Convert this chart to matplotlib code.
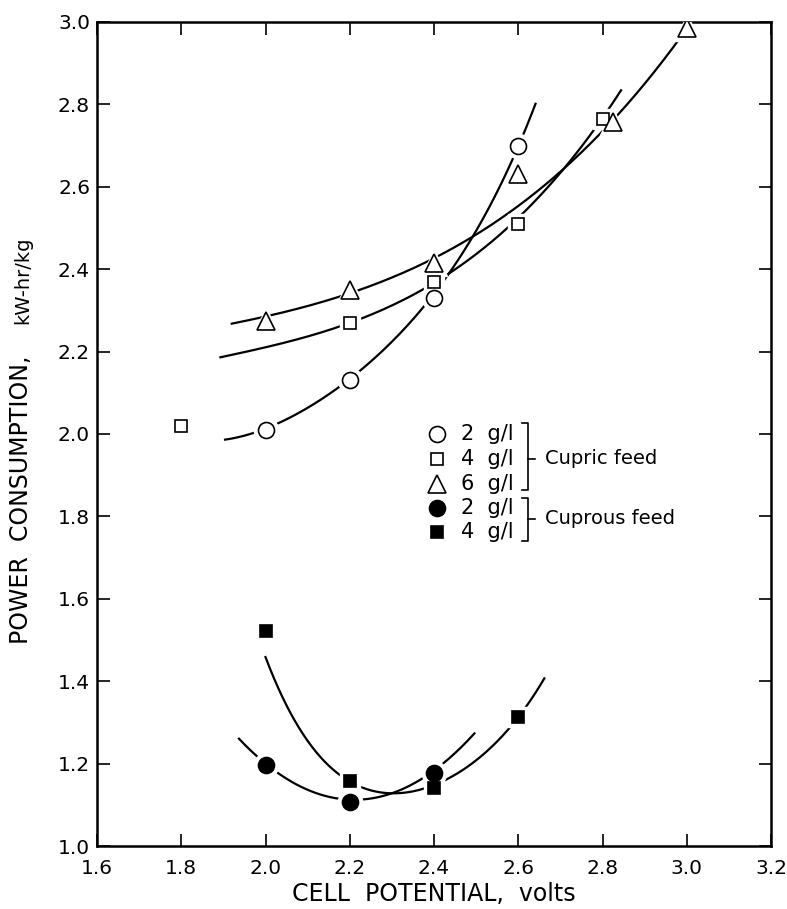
import numpy as np
import matplotlib
matplotlib.use("Agg")
import matplotlib.pyplot as plt

plt.rcParams['font.family'] = ['DejaVu Sans']

# measured points (cell potential in volts, power in kW-hr/kg)
cupric2_x = [2.0, 2.2, 2.4, 2.6]
cupric2_y = [2.01, 2.13, 2.33, 2.70]
cupric4_x = [1.8, 2.2, 2.4, 2.6, 2.8]
cupric4_y = [2.02, 2.27, 2.37, 2.51, 2.765]
cupric6_x = [2.0, 2.2, 2.4, 2.6, 2.825, 3.0]
cupric6_y = [2.275, 2.35, 2.415, 2.63, 2.758, 2.985]
cuprous2_x = [2.0, 2.2, 2.4]
cuprous2_y = [1.197, 1.108, 1.178]
cuprous4_x = [2.0, 2.2, 2.4, 2.6]
cuprous4_y = [1.522, 1.157, 1.140, 1.314]

# hand-drawn trend curves
curve_c2_x = [1.904, 2.0, 2.103, 2.2, 2.276, 2.4, 2.437, 2.48, 2.59, 2.619, 2.641]
curve_c2_y = [1.987, 2.011, 2.067, 2.132, 2.205, 2.33, 2.395, 2.463, 2.678, 2.738, 2.804]
curve_c4_x = [1.893, 2.04, 2.165, 2.2, 2.307, 2.4, 2.6, 2.669, 2.732, 2.779, 2.8, 2.844]
curve_c4_y = [2.189, 2.213, 2.257, 2.273, 2.318, 2.37, 2.51, 2.609, 2.673, 2.738, 2.765, 2.835]
curve_c6_x = [1.92, 2.0, 2.2, 2.307, 2.4, 2.421, 2.504, 2.669, 2.732, 2.825, 2.984, 3.0]
curve_c6_y = [2.273, 2.275, 2.349, 2.391, 2.415, 2.435, 2.488, 2.609, 2.673, 2.758, 2.96, 2.985]
curve_u2_x = [1.937, 2.0, 2.079, 2.158, 2.2, 2.284, 2.362, 2.4, 2.441, 2.496]
curve_u2_y = [1.253, 1.197, 1.167, 1.121, 1.108, 1.114, 1.154, 1.178, 1.219, 1.280]
curve_u4_x = [2.0, 2.032, 2.095, 2.173, 2.228, 2.315, 2.378, 2.425, 2.578, 2.6, 2.662]
curve_u4_y = [1.464, 1.373, 1.259, 1.179, 1.146, 1.130, 1.134, 1.158, 1.288, 1.314, 1.405]

x_ticks = [1.6, 1.8, 2.0, 2.2, 2.4, 2.6, 2.8, 3.0, 3.2]
y_ticks = [1.0, 1.2, 1.4, 1.6, 1.8, 2.0, 2.2, 2.4, 2.6, 2.8, 3.0]

fig = plt.figure(figsize=(7.87, 9.09), dpi=100)
AX_L, AX_R, AX_T, AX_B = 97, 771, 22, 846
ax = fig.add_axes([AX_L / 787, (909 - AX_B) / 909,
                   (AX_R - AX_L) / 787, (AX_B - AX_T) / 909])

LW = 1.6


def draw_curve(kx, ky, deg):
    p = np.polyfit(kx, ky, deg)
    xs = np.linspace(min(kx), max(kx), 200)
    ax.plot(xs, np.polyval(p, xs), color='black', lw=LW, zorder=2)


draw_curve(curve_c2_x, curve_c2_y, 4)
draw_curve(curve_c4_x, curve_c4_y, 3)
draw_curve(curve_c6_x, curve_c6_y, 3)
draw_curve(curve_u2_x, curve_u2_y, 2)
draw_curve(curve_u4_x, curve_u4_y, 4)

series = [
    (cupric2_x, cupric2_y, 'o', 11.5, 'white'),
    (cupric4_x, cupric4_y, 's', 8.5, 'white'),
    (cupric6_x, cupric6_y, '^', 12.5, 'white'),
    (cuprous2_x, cuprous2_y, 'o', 11.5, 'black'),
    (cuprous4_x, cuprous4_y, 's', 8.5, 'black'),
]
handles = []
for xs, ys, m, ms, fc in series:
    # white halo so the curves stop short of the symbols
    ax.plot(xs, ys, ls='none', marker=m, ms=ms + 6, mfc='white', mec='white', zorder=3)
    h, = ax.plot(xs, ys, ls='none', marker=m, ms=ms, mfc=fc, mec='black', mew=1.2, zorder=4)
    handles.append(h)

ax.set_xlim(1.6, 3.2)
ax.set_ylim(1.0, 3.0)
ax.set_xticks(x_ticks)
ax.set_yticks(y_ticks)
ax.set_xticklabels([f'{v:.1f}' for v in x_ticks])
ax.set_yticklabels([f'{v:.1f}' for v in y_ticks])
ax.tick_params(direction='in', length=9, width=1.2, labelsize=14.5,
               top=True, right=True)
ax.tick_params(axis='x', pad=9)
ax.tick_params(axis='y', pad=5)
for s in ax.spines.values():
    s.set_linewidth(1.8)

ax.set_xlabel('CELL  POTENTIAL,  volts', fontsize=17, labelpad=3)

# y label in two parts like the original
def ax_xy(px, py):
    return (px - AX_L) / (AX_R - AX_L), (AX_B - py) / (AX_B - AX_T)


lx, ly = ax_xy(21, 500)
ax.text(lx, ly, 'POWER  CONSUMPTION,', transform=ax.transAxes,
        rotation=90, ha='center', va='center', fontsize=17)
kx_, ky_ = ax_xy(23, 280)
ax.text(kx_, ky_, 'kW-hr/kg', transform=ax.transAxes,
        rotation=90, ha='center', va='center', fontsize=14)

# legend block with brackets
labels = ['2  g/l', '4  g/l', '6  g/l', '2  g/l', '4  g/l']
rows = [434, 459, 484, 508, 532]
for h, lab, py in zip(handles, labels, rows):
    mx, my = ax_xy(437, py)
    ax.plot([mx], [my], transform=ax.transAxes, ls='none', marker=h.get_marker(),
            ms=h.get_markersize(), mfc=h.get_markerfacecolor(), mec='black',
            mew=1.2, clip_on=False, zorder=5)
    tx, ty = ax_xy(461, py)
    ax.text(tx, ty, lab, transform=ax.transAxes, ha='left', va='center', fontsize=15)


def bracket(top, bot, mid, label):
    x0, y0 = ax_xy(522, top)
    x1, y1 = ax_xy(528, bot)
    xm, ym = ax_xy(535, mid)
    ax.plot([x0, x1, x1, x0], [y0, y0, y1, y1], transform=ax.transAxes,
            color='black', lw=1.2)
    ax.plot([x1, xm], [ym, ym], transform=ax.transAxes, color='black', lw=1.2)
    tx, _ = ax_xy(545, mid)
    ax.text(tx, ym, label, transform=ax.transAxes, ha='left', va='center', fontsize=14)


bracket(423, 490, 459, 'Cupric feed')
bracket(498, 541, 519, 'Cuprous feed')

fig.savefig('out.png', dpi=100)
